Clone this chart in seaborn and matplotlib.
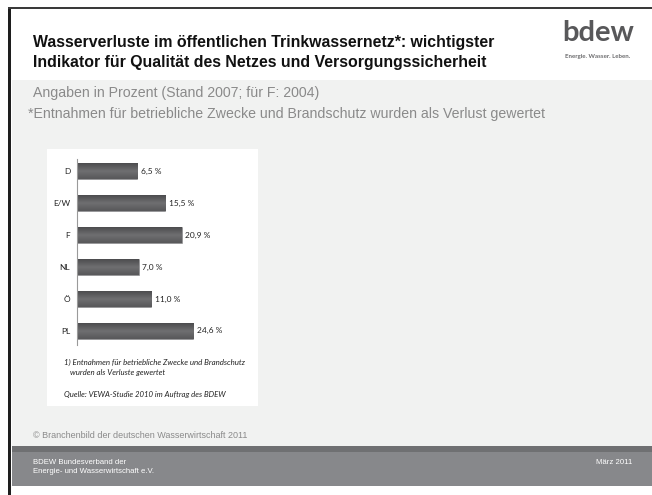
import matplotlib
matplotlib.use('Agg')
import matplotlib.pyplot as plt
from matplotlib.patches import Rectangle
from matplotlib.colors import LinearSegmentedColormap
import seaborn as sns
import pandas as pd
import numpy as np

# Data
laender = ['D', 'E/W', 'F', 'NL', 'Ö', 'PL']
verluste = [6.5, 15.5, 20.9, 7.0, 11.0, 24.6]

title_lines = ['Wasserverluste im öffentlichen Trinkwassernetz*: wichtigster',
               'Indikator für Qualität des Netzes und Versorgungssicherheit']
subtitle = 'Angaben in Prozent (Stand 2007; für F: 2004)'
note = '*Entnahmen für betriebliche Zwecke und Brandschutz wurden als Verlust gewertet'
footnote_lines = ['1) Entnahmen für betriebliche Zwecke und Brandschutz',
                  'wurden als Verluste gewertet']
quelle = 'Quelle: VEWA-Studie 2010 im Auftrag des BDEW'
copyright_text = '© Branchenbild der deutschen Wasserwirtschaft 2011'
footer_left = 'BDEW Bundesverband der\nEnergie- und Wasserwirtschaft e.V.'
footer_right = 'März 2011'

# the original bar axis does not start at zero
AXIS_START = -13.0

W, H = 652, 495


def fx(x):
    return x / W


def fy(y):
    return 1 - y / H


def box(x0, y0, x1, y1, color):
    fig.add_artist(Rectangle((fx(x0), fy(y1)), (x1 - x0) / W, (y1 - y0) / H,
                             transform=fig.transFigure, facecolor=color,
                             edgecolor='none', zorder=0))


sns.set_theme(style='white')
plt.rcParams['font.family'] = ['Liberation Sans', 'DejaVu Sans']
chart_font = ['Lato', 'DejaVu Sans']

fig = plt.figure(figsize=(W / 100, H / 100), dpi=100)
fig.patch.set_facecolor('white')

# page background
box(12, 80, 652, 446, '#f1f2f1')
box(12, 446, 652, 452, '#6f7072')
box(12, 452, 652, 486, '#87888b')
box(8, 8, 11, 495, '#1e1e1e')
box(8, 7, 652, 9, '#3a3a3a')
box(47, 149, 258, 406, 'white')

# header
fig.text(fx(33), fy(42), title_lines[0], fontsize=11.4, fontweight='bold',
         color='#111111', va='center')
fig.text(fx(33), fy(62), title_lines[1], fontsize=11.4, fontweight='bold',
         color='#111111', va='center')
fig.text(fx(598), fy(33), 'bdew', fontsize=21, color='#58585a', ha='center',
         va='center', fontweight='bold', family=chart_font)
fig.text(fx(598), fy(56), 'Energie. Wasser. Leben.', fontsize=4.4, color='#6b6b6d',
         ha='center', va='center', fontweight='bold', family=chart_font)

fig.text(fx(33), fy(93), subtitle, fontsize=10.2, color='#8a8a8a', va='center')
fig.text(fx(28), fy(114), note, fontsize=10.2, color='#8a8a8a', va='center')

# chart
df = pd.DataFrame({'land': laender, 'wert': verluste})
df['laenge'] = df['wert'] - AXIS_START

ax_left, ax_right, ax_top, ax_bottom = 77, 252, 159, 345
ax = fig.add_axes([fx(ax_left), fy(ax_bottom), (ax_right - ax_left) / W,
                   (ax_bottom - ax_top) / H])
sns.barplot(data=df, x='laenge', y='land', orient='h', color='#5d5d5f',
            width=0.5, saturation=1, edgecolor='#8a8a8c', linewidth=0.4, ax=ax)

# shaded bars like the original
shade = LinearSegmentedColormap.from_list('shade', ['#4c4c4e', '#6f6f71', '#58585a'])
grad = np.linspace(0, 1, 64).reshape(-1, 1)
for p in list(ax.patches):
    x0, y0, w, h = p.get_x(), p.get_y(), p.get_width(), p.get_height()
    im = ax.imshow(grad, cmap=shade, aspect='auto', extent=(x0, x0 + w, y0 + h, y0),
                   zorder=p.get_zorder() + 0.1)
    im.set_clip_path(p)

px_per_unit = 3.094
ax.set_xlim(0, (ax_right - ax_left) / px_per_unit)
ax.set_ylim(5.44, -0.386)
ax.set_facecolor('none')
for s in ['top', 'right', 'bottom']:
    ax.spines[s].set_visible(False)
ax.spines['left'].set_color('#9a9a9a')
ax.spines['left'].set_linewidth(0.8)
ax.set_xticks([])
ax.set_xlabel('')
ax.set_ylabel('')
ax.tick_params(axis='y', length=0, pad=5, labelsize=6, labelcolor='#222222')
for lab in ax.get_yticklabels():
    lab.set_family(chart_font)

for i, (l, v) in enumerate(zip(df['laenge'], df['wert'])):
    ax.text(l + 1.1, i, f'{v:.1f}'.replace('.', ',') + ' %', va='center',
            ha='left', fontsize=6, color='#222222', family=chart_font)

fig.text(fx(64), fy(362), footnote_lines[0], fontsize=5.7, style='italic',
         color='#222222', va='center', family=chart_font)
fig.text(fx(70), fy(373), footnote_lines[1], fontsize=5.7, style='italic',
         color='#222222', va='center', family=chart_font)
fig.text(fx(64), fy(395), quelle, fontsize=5.6, style='italic',
         color='#222222', va='center', family=chart_font)

# footer
fig.text(fx(33), fy(435), copyright_text, fontsize=6.5, color='#8a8a8a', va='center')
fig.text(fx(33), fy(467), footer_left, fontsize=5.6, color='white', va='center',
         linespacing=1.25)
fig.text(fx(632), fy(462), footer_right, fontsize=5.6, color='white', va='center',
         ha='right')

fig.savefig('out.png', dpi=100)
